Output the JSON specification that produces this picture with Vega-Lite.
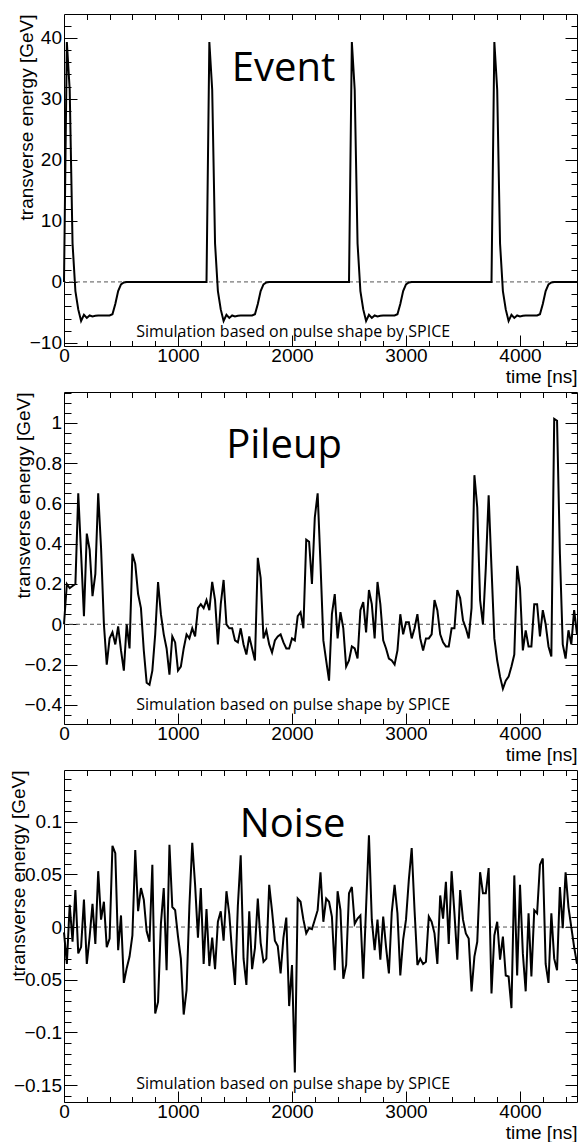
{
"$schema": "https://vega.github.io/schema/vega-lite/v6.json",
"background": "white",
"padding": {"left": 8, "top": 13, "right": 7, "bottom": 0},
"autosize": {"type": "pad"},
"bounds": "flush",
"spacing": 46,
"config": {
 "view": {"stroke": "black", "strokeWidth": 1},
 "axis": {"labelFont": "Liberation Sans", "labelFontSize": 19, "labelColor": "black", "tickColor": "black", "tickWidth": 1, "domain": false, "grid": false, "titleFont": "Liberation Sans", "titleFontSize": 19, "titleFontWeight": "normal", "titleColor": "black", "labelFlush": false, "labelOverlap": false}
},
"datasets": {
"event": [
{"t":0,"v":0},{"t":25,"v":39.3},{"t":50,"v":31.5},{"t":75,"v":6.3},{"t":100,"v":-1.5},{"t":125,"v":-4.5},{"t":150,"v":-6.4},{"t":175,"v":-5.4},{"t":200,"v":-5.9},{"t":225,"v":-5.5},{"t":250,"v":-5.65},{"t":275,"v":-5.55},{"t":300,"v":-5.5},{"t":325,"v":-5.5},{"t":350,"v":-5.5},{"t":375,"v":-5.5},{"t":400,"v":-5.5},{"t":425,"v":-5.3},{"t":450,"v":-3.6},{"t":475,"v":-1.5},{"t":500,"v":-0.4},{"t":525,"v":-0.1},
{"t":550,"v":0},{"t":575,"v":0},{"t":600,"v":0},{"t":625,"v":0},{"t":650,"v":0},{"t":675,"v":0},{"t":700,"v":0},{"t":725,"v":0},{"t":750,"v":0},{"t":775,"v":0},{"t":800,"v":0},{"t":825,"v":0},{"t":850,"v":0},{"t":875,"v":0},{"t":900,"v":0},{"t":925,"v":0},{"t":950,"v":0},{"t":975,"v":0},{"t":1000,"v":0},{"t":1025,"v":0},{"t":1050,"v":0},{"t":1075,"v":0},{"t":1100,"v":0},{"t":1125,"v":0},{"t":1150,"v":0},{"t":1175,"v":0},{"t":1200,"v":0},{"t":1225,"v":0},{"t":1250,"v":0},
{"t":1275,"v":39.3},{"t":1300,"v":31.5},{"t":1325,"v":6.3},{"t":1350,"v":-1.5},{"t":1375,"v":-4.5},{"t":1400,"v":-6.4},{"t":1425,"v":-5.4},{"t":1450,"v":-5.9},{"t":1475,"v":-5.5},{"t":1500,"v":-5.65},{"t":1525,"v":-5.55},{"t":1550,"v":-5.5},{"t":1575,"v":-5.5},{"t":1600,"v":-5.5},{"t":1625,"v":-5.5},{"t":1650,"v":-5.5},{"t":1675,"v":-5.3},{"t":1700,"v":-3.6},{"t":1725,"v":-1.5},{"t":1750,"v":-0.4},{"t":1775,"v":-0.1},
{"t":1800,"v":0},{"t":1825,"v":0},{"t":1850,"v":0},{"t":1875,"v":0},{"t":1900,"v":0},{"t":1925,"v":0},{"t":1950,"v":0},{"t":1975,"v":0},{"t":2000,"v":0},{"t":2025,"v":0},{"t":2050,"v":0},{"t":2075,"v":0},{"t":2100,"v":0},{"t":2125,"v":0},{"t":2150,"v":0},{"t":2175,"v":0},{"t":2200,"v":0},{"t":2225,"v":0},{"t":2250,"v":0},{"t":2275,"v":0},{"t":2300,"v":0},{"t":2325,"v":0},{"t":2350,"v":0},{"t":2375,"v":0},{"t":2400,"v":0},{"t":2425,"v":0},{"t":2450,"v":0},{"t":2475,"v":0},{"t":2500,"v":0},
{"t":2525,"v":39.3},{"t":2550,"v":31.5},{"t":2575,"v":6.3},{"t":2600,"v":-1.5},{"t":2625,"v":-4.5},{"t":2650,"v":-6.4},{"t":2675,"v":-5.4},{"t":2700,"v":-5.9},{"t":2725,"v":-5.5},{"t":2750,"v":-5.65},{"t":2775,"v":-5.55},{"t":2800,"v":-5.5},{"t":2825,"v":-5.5},{"t":2850,"v":-5.5},{"t":2875,"v":-5.5},{"t":2900,"v":-5.5},{"t":2925,"v":-5.3},{"t":2950,"v":-3.6},{"t":2975,"v":-1.5},{"t":3000,"v":-0.4},{"t":3025,"v":-0.1},
{"t":3050,"v":0},{"t":3075,"v":0},{"t":3100,"v":0},{"t":3125,"v":0},{"t":3150,"v":0},{"t":3175,"v":0},{"t":3200,"v":0},{"t":3225,"v":0},{"t":3250,"v":0},{"t":3275,"v":0},{"t":3300,"v":0},{"t":3325,"v":0},{"t":3350,"v":0},{"t":3375,"v":0},{"t":3400,"v":0},{"t":3425,"v":0},{"t":3450,"v":0},{"t":3475,"v":0},{"t":3500,"v":0},{"t":3525,"v":0},{"t":3550,"v":0},{"t":3575,"v":0},{"t":3600,"v":0},{"t":3625,"v":0},{"t":3650,"v":0},{"t":3675,"v":0},{"t":3700,"v":0},{"t":3725,"v":0},{"t":3750,"v":0},
{"t":3775,"v":39.3},{"t":3800,"v":31.5},{"t":3825,"v":6.3},{"t":3850,"v":-1.5},{"t":3875,"v":-4.5},{"t":3900,"v":-6.4},{"t":3925,"v":-5.4},{"t":3950,"v":-5.9},{"t":3975,"v":-5.5},{"t":4000,"v":-5.65},{"t":4025,"v":-5.55},{"t":4050,"v":-5.5},{"t":4075,"v":-5.5},{"t":4100,"v":-5.5},{"t":4125,"v":-5.5},{"t":4150,"v":-5.5},{"t":4175,"v":-5.3},{"t":4200,"v":-3.6},{"t":4225,"v":-1.5},{"t":4250,"v":-0.4},{"t":4275,"v":-0.1},
{"t":4300,"v":0},{"t":4325,"v":0},{"t":4350,"v":0},{"t":4375,"v":0},{"t":4400,"v":0},{"t":4425,"v":0},{"t":4450,"v":0},{"t":4475,"v":0},{"t":4500,"v":0}
],
"pileup": [
{"t":0,"v":0},{"t":25,"v":0.2},{"t":50,"v":0.18},{"t":75,"v":0.19},{"t":100,"v":0.2},{"t":125,"v":0.65},{"t":150,"v":0.35},{"t":175,"v":0.04},{"t":200,"v":0.45},{"t":225,"v":0.37},
{"t":250,"v":0.14},{"t":275,"v":0.25},{"t":300,"v":0.65},{"t":325,"v":0.38},{"t":350,"v":0},{"t":375,"v":-0.2},{"t":400,"v":-0.07},{"t":425,"v":-0.04},{"t":450,"v":-0.1},{"t":475,"v":-0.01},
{"t":500,"v":-0.13},{"t":525,"v":-0.23},{"t":550,"v":0},{"t":575,"v":-0.12},{"t":600,"v":0.35},{"t":625,"v":0.3},{"t":650,"v":0.15},{"t":675,"v":0.08},{"t":700,"v":-0.13},{"t":725,"v":-0.29},
{"t":750,"v":-0.3},{"t":775,"v":-0.23},{"t":800,"v":-0.05},{"t":825,"v":0.21},{"t":850,"v":0.05},{"t":875,"v":-0.05},{"t":900,"v":-0.12},{"t":925,"v":-0.25},{"t":950,"v":-0.06},{"t":975,"v":-0.09},
{"t":1000,"v":-0.23},{"t":1025,"v":-0.21},{"t":1050,"v":-0.12},{"t":1075,"v":-0.05},{"t":1100,"v":-0.07},{"t":1125,"v":-0.02},{"t":1150,"v":-0.06},{"t":1175,"v":0.08},{"t":1200,"v":0.1},{"t":1225,"v":0.08},
{"t":1250,"v":0.12},{"t":1275,"v":0.07},{"t":1300,"v":0.21},{"t":1325,"v":0.12},{"t":1350,"v":-0.1},{"t":1375,"v":0.1},{"t":1400,"v":0.22},{"t":1425,"v":0},{"t":1450,"v":-0.02},{"t":1475,"v":-0.02},
{"t":1500,"v":-0.08},{"t":1525,"v":-0.09},{"t":1550,"v":-0.02},{"t":1575,"v":-0.1},{"t":1600,"v":-0.15},{"t":1625,"v":-0.06},{"t":1650,"v":-0.12},{"t":1675,"v":-0.18},{"t":1700,"v":0.33},{"t":1725,"v":0.23},
{"t":1750,"v":-0.07},{"t":1775,"v":-0.03},{"t":1800,"v":-0.1},{"t":1825,"v":-0.14},{"t":1850,"v":-0.08},{"t":1875,"v":-0.06},{"t":1900,"v":-0.05},{"t":1925,"v":-0.09},{"t":1950,"v":-0.12},{"t":1975,"v":-0.12},
{"t":2000,"v":-0.07},{"t":2025,"v":-0.08},{"t":2050,"v":0.04},{"t":2075,"v":0.06},{"t":2100,"v":-0.02},{"t":2125,"v":0.42},{"t":2150,"v":0.41},{"t":2175,"v":0.2},{"t":2200,"v":0.53},{"t":2225,"v":0.65},
{"t":2250,"v":0.3},{"t":2275,"v":-0.08},{"t":2300,"v":-0.18},{"t":2325,"v":-0.28},{"t":2350,"v":0.05},{"t":2375,"v":0.15},{"t":2400,"v":-0.07},{"t":2425,"v":0.06},{"t":2450,"v":-0.02},{"t":2475,"v":-0.21},
{"t":2500,"v":-0.18},{"t":2525,"v":-0.11},{"t":2550,"v":-0.12},{"t":2575,"v":-0.17},{"t":2600,"v":0.07},{"t":2625,"v":0.11},{"t":2650,"v":-0.04},{"t":2675,"v":0.17},{"t":2700,"v":0.1},{"t":2725,"v":-0.07},
{"t":2750,"v":0.21},{"t":2775,"v":0.1},{"t":2800,"v":-0.08},{"t":2825,"v":-0.12},{"t":2850,"v":-0.17},{"t":2875,"v":-0.18},{"t":2900,"v":-0.2},{"t":2925,"v":-0.13},{"t":2950,"v":0.05},{"t":2975,"v":-0.05},
{"t":3000,"v":0.01},{"t":3025,"v":0.01},{"t":3050,"v":-0.07},{"t":3075,"v":-0.02},{"t":3100,"v":0.05},{"t":3125,"v":-0.07},{"t":3150,"v":-0.13},{"t":3175,"v":-0.07},{"t":3200,"v":-0.07},{"t":3225,"v":-0.05},
{"t":3250,"v":0.12},{"t":3275,"v":0.07},{"t":3300,"v":-0.05},{"t":3325,"v":-0.09},{"t":3350,"v":-0.11},{"t":3375,"v":-0.11},{"t":3400,"v":-0.02},{"t":3425,"v":-0.02},{"t":3450,"v":0.17},{"t":3475,"v":0.13},
{"t":3500,"v":0.02},{"t":3525,"v":-0.02},{"t":3550,"v":-0.07},{"t":3575,"v":0.08},{"t":3600,"v":0.74},{"t":3625,"v":0.58},{"t":3650,"v":0.12},{"t":3675,"v":0},{"t":3700,"v":0.28},{"t":3725,"v":0.64},
{"t":3750,"v":0.28},{"t":3775,"v":-0.07},{"t":3800,"v":-0.18},{"t":3825,"v":-0.26},{"t":3850,"v":-0.32},{"t":3875,"v":-0.28},{"t":3900,"v":-0.26},{"t":3925,"v":-0.21},{"t":3950,"v":-0.15},{"t":3975,"v":0.29},
{"t":4000,"v":0.18},{"t":4025,"v":-0.13},{"t":4050,"v":-0.03},{"t":4075,"v":-0.11},{"t":4100,"v":-0.11},{"t":4125,"v":0.1},{"t":4150,"v":0.1},{"t":4175,"v":-0.06},{"t":4200,"v":0.07},{"t":4225,"v":0},
{"t":4250,"v":-0.11},{"t":4275,"v":-0.16},{"t":4300,"v":1.02},{"t":4325,"v":1.01},{"t":4350,"v":0.35},{"t":4375,"v":-0.1},{"t":4400,"v":-0.17},{"t":4425,"v":-0.03},{"t":4450,"v":-0.1},{"t":4475,"v":0.07},
{"t":4500,"v":-0.05}
],
"noise": [
{"t":0,"v":-0.005},{"t":25,"v":-0.035},{"t":50,"v":0.021},{"t":75,"v":-0.014},{"t":100,"v":0.035},{"t":125,"v":-0.025},{"t":150,"v":-0.019},{"t":175,"v":0.026},{"t":200,"v":-0.035},{"t":225,"v":-0.009},
{"t":250,"v":0.022},{"t":275,"v":-0.016},{"t":300,"v":0.053},{"t":325,"v":0.007},{"t":350,"v":0.024},{"t":375,"v":-0.019},{"t":400,"v":-0.011},{"t":425,"v":0.077},{"t":450,"v":0.07},{"t":475,"v":-0.022},
{"t":500,"v":0.011},{"t":525,"v":-0.053},{"t":550,"v":-0.039},{"t":575,"v":-0.028},{"t":600,"v":-0.008},{"t":625,"v":0.073},{"t":650,"v":0.015},{"t":675,"v":0.037},{"t":700,"v":0.026},{"t":725,"v":-0.004},
{"t":750,"v":-0.014},{"t":775,"v":0.059},{"t":800,"v":-0.082},{"t":825,"v":-0.071},{"t":850,"v":0.003},{"t":875,"v":0.037},{"t":900,"v":-0.041},{"t":925,"v":0.078},{"t":950,"v":0.019},{"t":975,"v":0.016},
{"t":1000,"v":-0.009},{"t":1025,"v":-0.03},{"t":1050,"v":-0.083},{"t":1075,"v":-0.06},{"t":1100,"v":0.02},{"t":1125,"v":0.08},{"t":1150,"v":0.04},{"t":1175,"v":-0.01},{"t":1200,"v":0.037},{"t":1225,"v":-0.035},
{"t":1250,"v":0.017},{"t":1275,"v":-0.037},{"t":1300,"v":-0.01},{"t":1325,"v":-0.04},{"t":1350,"v":0.005},{"t":1375,"v":0.015},{"t":1400,"v":-0.013},{"t":1425,"v":0.034},{"t":1450,"v":0.012},{"t":1475,"v":-0.025},
{"t":1500,"v":-0.055},{"t":1525,"v":0.02},{"t":1550,"v":0.068},{"t":1575,"v":-0.03},{"t":1600,"v":-0.055},{"t":1625,"v":0.015},{"t":1650,"v":-0.04},{"t":1675,"v":-0.02},{"t":1700,"v":0.027},{"t":1725,"v":-0.015},
{"t":1750,"v":-0.033},{"t":1775,"v":-0.03},{"t":1800,"v":0.04},{"t":1825,"v":0.015},{"t":1850,"v":-0.013},{"t":1875,"v":-0.018},{"t":1900,"v":-0.044},{"t":1925,"v":-0.01},{"t":1950,"v":0.009},{"t":1975,"v":-0.075},
{"t":2000,"v":-0.036},{"t":2025,"v":-0.138},{"t":2050,"v":0.027},{"t":2075,"v":0.024},{"t":2100,"v":0.007},{"t":2125,"v":-0.006},{"t":2150,"v":-0.001},{"t":2175,"v":-0.002},{"t":2200,"v":0.007},{"t":2225,"v":0.016},
{"t":2250,"v":0.052},{"t":2275,"v":0.005},{"t":2300,"v":0.027},{"t":2325,"v":0.024},{"t":2350,"v":0.01},{"t":2375,"v":-0.041},{"t":2400,"v":0.034},{"t":2425,"v":0.016},{"t":2450,"v":-0.049},{"t":2475,"v":-0.036},
{"t":2500,"v":0.032},{"t":2525,"v":0.038},{"t":2550,"v":0.003},{"t":2575,"v":0.008},{"t":2600,"v":0.011},{"t":2625,"v":-0.049},{"t":2650,"v":0.019},{"t":2675,"v":0.087},{"t":2700,"v":0.007},{"t":2725,"v":-0.022},
{"t":2750,"v":0.007},{"t":2775,"v":-0.031},{"t":2800,"v":0.01},{"t":2825,"v":-0.019},{"t":2850,"v":-0.044},{"t":2875,"v":0.014},{"t":2900,"v":0.04},{"t":2925,"v":0.013},{"t":2950,"v":-0.046},{"t":2975,"v":-0.012},
{"t":3000,"v":0.007},{"t":3025,"v":0.045},{"t":3050,"v":0.075},{"t":3075,"v":0.016},{"t":3100,"v":-0.036},{"t":3125,"v":-0.03},{"t":3150,"v":-0.035},{"t":3175,"v":-0.033},{"t":3200,"v":0.01},{"t":3225,"v":0.005},
{"t":3250,"v":-0.006},{"t":3275,"v":-0.035},{"t":3300,"v":0.03},{"t":3325,"v":0.008},{"t":3350,"v":0.043},{"t":3375,"v":-0.016},{"t":3400,"v":0.053},{"t":3425,"v":0.013},{"t":3450,"v":-0.031},{"t":3475,"v":0.035},
{"t":3500,"v":0.007},{"t":3525,"v":-0.006},{"t":3550,"v":-0.011},{"t":3575,"v":-0.061},{"t":3600,"v":-0.028},{"t":3625,"v":-0.014},{"t":3650,"v":0.052},{"t":3675,"v":0.032},{"t":3700,"v":0.032},{"t":3725,"v":0.056},
{"t":3750,"v":-0.063},{"t":3775,"v":-0.008},{"t":3800,"v":0.005},{"t":3825,"v":-0.031},{"t":3850,"v":-0.009},{"t":3875,"v":-0.046},{"t":3900,"v":-0.047},{"t":3925,"v":-0.077},{"t":3950,"v":0.049},{"t":3975,"v":-0.046},
{"t":4000,"v":0.04},{"t":4025,"v":-0.025},{"t":4050,"v":-0.061},{"t":4075,"v":0.013},{"t":4100,"v":-0.047},{"t":4125,"v":0.016},{"t":4150,"v":0.013},{"t":4175,"v":0.059},{"t":4200,"v":0.065},{"t":4225,"v":-0.035},
{"t":4250,"v":-0.053},{"t":4275,"v":0.013},{"t":4300,"v":-0.03},{"t":4325,"v":-0.041},{"t":4350,"v":0.038},{"t":4375,"v":-0.001},{"t":4400,"v":0.052},{"t":4425,"v":0.019},{"t":4450,"v":0},{"t":4475,"v":-0.019},
{"t":4500,"v":-0.035}
]
},
"vconcat": [
{
 "width": 513, "height": 332,
 "data": {"name": "event"},
 "resolve": {"axis": {"x": "independent", "y": "independent"}},
 "layer": [
  {"data": {"values": [{}]}, "mark": {"type": "rule", "color": "#555555", "strokeWidth": 1, "strokeDash": [4, 3]}, "encoding": {"y": {"datum": 0, "type": "quantitative", "axis": null}}},
  {"mark": {"type": "line", "color": "black", "strokeWidth": 2},
   "encoding": {
    "x": {"field": "t", "type": "quantitative", "scale": {"domain": [0, 4500], "nice": false, "zero": false},
          "axis": {"orient": "bottom", "values": [0, 1000, 2000, 3000, 4000], "tickSize": -11, "labelPadding": 11.5, "format": "d", "title": "time [ns]", "titleX": 513, "titleY": 36, "titleAlign": "right", "titleBaseline": "alphabetic"}},
    "y": {"field": "v", "type": "quantitative", "scale": {"domain": [-10.5, 43.9], "nice": false, "zero": false},
          "axis": {"orient": "left", "values": [-10, 0, 10, 20, 30, 40], "tickSize": -13, "labelPadding": 15.5, "format": "~r", "title": "transverse energy [GeV]", "titleAngle": 270, "titleX": -38, "titleY": 0, "titleAlign": "right", "titleBaseline": "middle"}}
   }},
  {"mark": {"type": "line", "strokeOpacity": 0},
   "encoding": {
    "x": {"field": "t", "type": "quantitative", "axis": {"orient": "bottom", "values": [200,400,600,800,1200,1400,1600,1800,2200,2400,2600,2800,3200,3400,3600,3800,4200,4400], "tickSize": -5.5, "labels": false, "title": null}},
    "y": {"field": "v", "type": "quantitative", "axis": {"orient": "left", "values": [-8,-6,-4,-2,2,4,6,8,12,14,16,18,22,24,26,28,32,34,36,38,42], "tickSize": -7, "labels": false, "title": null}}
   }},
  {"mark": {"type": "line", "strokeOpacity": 0},
   "encoding": {
    "x": {"field": "t", "type": "quantitative", "axis": {"orient": "top", "values": [200,400,600,800,1000,1200,1400,1600,1800,2000,2200,2400,2600,2800,3000,3200,3400,3600,3800,4000,4200,4400], "tickSize": -5.5, "labels": false, "title": null}},
    "y": {"field": "v", "type": "quantitative", "axis": {"orient": "right", "values": [-10, 0, 10, 20, 30, 40], "tickSize": -12, "labels": false, "title": null}}
   }},
  {"mark": {"type": "line", "strokeOpacity": 0},
   "encoding": {
    "x": {"field": "t", "type": "quantitative", "axis": null},
    "y": {"field": "v", "type": "quantitative", "axis": {"orient": "right", "values": [-8,-6,-4,-2,2,4,6,8,12,14,16,18,22,24,26,28,32,34,36,38,42], "tickSize": -6, "labels": false, "title": null}}
   }},
  {"data": {"values": [{}]}, "mark": {"type": "text", "text": "Event", "font": "Open Sans", "fontSize": 40, "color": "black", "align": "center", "baseline": "alphabetic"},
   "encoding": {"x": {"datum": 1925, "type": "quantitative", "axis": null}, "y": {"datum": 32.9, "type": "quantitative", "axis": null}}},
  {"data": {"values": [{}]}, "mark": {"type": "text", "text": "Simulation based on pulse shape by SPICE", "font": "Open Sans", "fontSize": 16, "color": "black", "align": "center", "baseline": "alphabetic"},
   "encoding": {"x": {"datum": 2010, "type": "quantitative", "axis": null}, "y": {"datum": -9.0, "type": "quantitative", "axis": null}}}
 ]
},
{
 "width": 513, "height": 332,
 "data": {"name": "pileup"},
 "resolve": {"axis": {"x": "independent", "y": "independent"}},
 "layer": [
  {"data": {"values": [{}]}, "mark": {"type": "rule", "color": "#555555", "strokeWidth": 1, "strokeDash": [4, 3]}, "encoding": {"y": {"datum": 0, "type": "quantitative", "axis": null}}},
  {"mark": {"type": "line", "color": "black", "strokeWidth": 2},
   "encoding": {
    "x": {"field": "t", "type": "quantitative", "scale": {"domain": [0, 4500], "nice": false, "zero": false},
          "axis": {"orient": "bottom", "values": [0, 1000, 2000, 3000, 4000], "tickSize": -11, "labelPadding": 11.5, "format": "d", "title": "time [ns]", "titleX": 513, "titleY": 36, "titleAlign": "right", "titleBaseline": "alphabetic"}},
    "y": {"field": "v", "type": "quantitative", "scale": {"domain": [-0.495, 1.153], "nice": false, "zero": false},
          "axis": {"orient": "left", "values": [-0.4, -0.2, 0, 0.2, 0.4, 0.6, 0.8, 1], "tickSize": -13, "labelPadding": 15.5, "format": "~r", "title": "transverse energy [GeV]", "titleAngle": 270, "titleX": -41, "titleY": 0, "titleAlign": "right", "titleBaseline": "middle"}}
   }},
  {"mark": {"type": "line", "strokeOpacity": 0},
   "encoding": {
    "x": {"field": "t", "type": "quantitative", "axis": {"orient": "bottom", "values": [200,400,600,800,1200,1400,1600,1800,2200,2400,2600,2800,3200,3400,3600,3800,4200,4400], "tickSize": -5.5, "labels": false, "title": null}},
    "y": {"field": "v", "type": "quantitative", "axis": {"orient": "left", "values": [-0.45,-0.35,-0.3,-0.25,-0.15,-0.1,-0.05,0.05,0.1,0.15,0.25,0.3,0.35,0.45,0.5,0.55,0.65,0.7,0.75,0.85,0.9,0.95,1.05,1.1,1.15], "tickSize": -7, "labels": false, "title": null}}
   }},
  {"mark": {"type": "line", "strokeOpacity": 0},
   "encoding": {
    "x": {"field": "t", "type": "quantitative", "axis": {"orient": "top", "values": [200,400,600,800,1000,1200,1400,1600,1800,2000,2200,2400,2600,2800,3000,3200,3400,3600,3800,4000,4200,4400], "tickSize": -5.5, "labels": false, "title": null}},
    "y": {"field": "v", "type": "quantitative", "axis": {"orient": "right", "values": [-0.4, -0.2, 0, 0.2, 0.4, 0.6, 0.8, 1], "tickSize": -12, "labels": false, "title": null}}
   }},
  {"mark": {"type": "line", "strokeOpacity": 0},
   "encoding": {
    "x": {"field": "t", "type": "quantitative", "axis": null},
    "y": {"field": "v", "type": "quantitative", "axis": {"orient": "right", "values": [-0.45,-0.35,-0.3,-0.25,-0.15,-0.1,-0.05,0.05,0.1,0.15,0.25,0.3,0.35,0.45,0.5,0.55,0.65,0.7,0.75,0.85,0.9,0.95,1.05,1.1,1.15], "tickSize": -6, "labels": false, "title": null}}
   }},
  {"data": {"values": [{}]}, "mark": {"type": "text", "text": "Pileup", "font": "Open Sans", "fontSize": 40, "color": "black", "align": "center", "baseline": "alphabetic"},
   "encoding": {"x": {"datum": 1930, "type": "quantitative", "axis": null}, "y": {"datum": 0.827, "type": "quantitative", "axis": null}}},
  {"data": {"values": [{}]}, "mark": {"type": "text", "text": "Simulation based on pulse shape by SPICE", "font": "Open Sans", "fontSize": 16, "color": "black", "align": "center", "baseline": "alphabetic"},
   "encoding": {"x": {"datum": 2010, "type": "quantitative", "axis": null}, "y": {"datum": -0.427, "type": "quantitative", "axis": null}}}
 ]
},
{
 "width": 513, "height": 332,
 "data": {"name": "noise"},
 "resolve": {"axis": {"x": "independent", "y": "independent"}},
 "layer": [
  {"data": {"values": [{}]}, "mark": {"type": "rule", "color": "#555555", "strokeWidth": 1, "strokeDash": [4, 3]}, "encoding": {"y": {"datum": 0, "type": "quantitative", "axis": null}}},
  {"mark": {"type": "line", "color": "black", "strokeWidth": 2},
   "encoding": {
    "x": {"field": "t", "type": "quantitative", "scale": {"domain": [0, 4500], "nice": false, "zero": false},
          "axis": {"orient": "bottom", "values": [0, 1000, 2000, 3000, 4000], "tickSize": -11, "labelPadding": 11.5, "format": "d", "title": "time [ns]", "titleX": 513, "titleY": 36, "titleAlign": "right", "titleBaseline": "alphabetic"}},
    "y": {"field": "v", "type": "quantitative", "scale": {"domain": [-0.166, 0.149], "nice": false, "zero": false},
          "axis": {"orient": "left", "values": [-0.15, -0.1, -0.05, 0, 0.05, 0.1], "tickSize": -13, "labelPadding": 15.5, "format": "~r", "title": "transverse energy [GeV]", "titleAngle": 270, "titleX": -46, "titleY": 0, "titleAlign": "right", "titleBaseline": "middle"}}
   }},
  {"mark": {"type": "line", "strokeOpacity": 0},
   "encoding": {
    "x": {"field": "t", "type": "quantitative", "axis": {"orient": "bottom", "values": [200,400,600,800,1200,1400,1600,1800,2200,2400,2600,2800,3200,3400,3600,3800,4200,4400], "tickSize": -5.5, "labels": false, "title": null}},
    "y": {"field": "v", "type": "quantitative", "axis": {"orient": "left", "values": [-0.16,-0.14,-0.13,-0.12,-0.11,-0.09,-0.08,-0.07,-0.06,-0.04,-0.03,-0.02,-0.01,0.01,0.02,0.03,0.04,0.06,0.07,0.08,0.09,0.11,0.12,0.13,0.14], "tickSize": -7, "labels": false, "title": null}}
   }},
  {"mark": {"type": "line", "strokeOpacity": 0},
   "encoding": {
    "x": {"field": "t", "type": "quantitative", "axis": {"orient": "top", "values": [200,400,600,800,1000,1200,1400,1600,1800,2000,2200,2400,2600,2800,3000,3200,3400,3600,3800,4000,4200,4400], "tickSize": -5.5, "labels": false, "title": null}},
    "y": {"field": "v", "type": "quantitative", "axis": {"orient": "right", "values": [-0.15, -0.1, -0.05, 0, 0.05, 0.1], "tickSize": -12, "labels": false, "title": null}}
   }},
  {"mark": {"type": "line", "strokeOpacity": 0},
   "encoding": {
    "x": {"field": "t", "type": "quantitative", "axis": null},
    "y": {"field": "v", "type": "quantitative", "axis": {"orient": "right", "values": [-0.16,-0.14,-0.13,-0.12,-0.11,-0.09,-0.08,-0.07,-0.06,-0.04,-0.03,-0.02,-0.01,0.01,0.02,0.03,0.04,0.06,0.07,0.08,0.09,0.11,0.12,0.13,0.14], "tickSize": -6, "labels": false, "title": null}}
   }},
  {"data": {"values": [{}]}, "mark": {"type": "text", "text": "Noise", "font": "Open Sans", "fontSize": 40, "color": "black", "align": "center", "baseline": "alphabetic"},
   "encoding": {"x": {"datum": 2005, "type": "quantitative", "axis": null}, "y": {"datum": 0.0857, "type": "quantitative", "axis": null}}},
  {"data": {"values": [{}]}, "mark": {"type": "text", "text": "Simulation based on pulse shape by SPICE", "font": "Open Sans", "fontSize": 16, "color": "black", "align": "center", "baseline": "alphabetic"},
   "encoding": {"x": {"datum": 2010, "type": "quantitative", "axis": null}, "y": {"datum": -0.154, "type": "quantitative", "axis": null}}}
 ]
}
]
}
